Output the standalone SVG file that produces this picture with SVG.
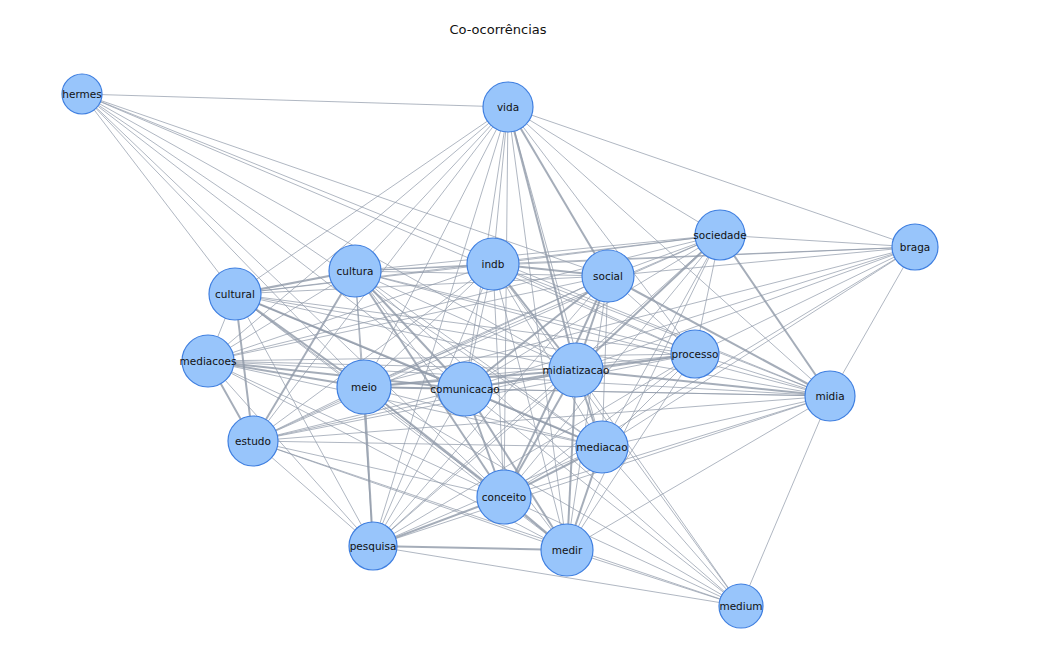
<svg xmlns="http://www.w3.org/2000/svg" width="1040" height="648" viewBox="0 0 1040 648">
<style>
line{stroke:#8e98a8;stroke-width:1;stroke-opacity:.7}
line.t{stroke-width:2;stroke-opacity:.8}
circle{fill:#98c5fb;stroke:#3f7fe0;stroke-width:1.2}
text{font-family:"DejaVu Sans",sans-serif;font-size:10.5px;fill:#111;text-anchor:middle;dominant-baseline:central}
.title{font-size:13px}
</style>
<rect width="1040" height="648" fill="#fff"/>
<text class="title" x="498" y="29">Co-ocorrências</text>
<g id="edges">
<line x1="82" y1="94" x2="508" y2="107"/><line x1="82" y1="94" x2="235" y2="294"/><line x1="82" y1="94" x2="364" y2="387"/><line x1="82" y1="94" x2="465" y2="389"/><line x1="82" y1="94" x2="504" y2="497"/><line x1="82" y1="94" x2="602" y2="447"/><line x1="82" y1="94" x2="576" y2="370"/><line x1="82" y1="94" x2="695" y2="354"/><line x1="82" y1="94" x2="830" y2="396"/><line x1="82" y1="94" x2="608" y2="276"/>
<line x1="741" y1="606" x2="830" y2="396"/><line x1="741" y1="606" x2="602" y2="447"/><line x1="741" y1="606" x2="567" y2="550"/><line x1="741" y1="606" x2="504" y2="497"/><line x1="741" y1="606" x2="373" y2="546"/><line x1="741" y1="606" x2="465" y2="389"/><line x1="741" y1="606" x2="576" y2="370"/><line x1="741" y1="606" x2="253" y2="441"/><line x1="741" y1="606" x2="364" y2="387"/><line x1="741" y1="606" x2="493" y2="264"/><line x1="741" y1="606" x2="355" y2="271"/>
<line x1="915" y1="247" x2="508" y2="107"/><line x1="915" y1="247" x2="720" y2="235"/><line x1="915" y1="247" x2="493" y2="264"/><line x1="915" y1="247" x2="355" y2="271"/><line x1="915" y1="247" x2="608" y2="276"/><line x1="915" y1="247" x2="695" y2="354"/><line x1="915" y1="247" x2="576" y2="370"/><line x1="915" y1="247" x2="364" y2="387"/><line x1="915" y1="247" x2="465" y2="389"/><line x1="915" y1="247" x2="830" y2="396"/><line x1="915" y1="247" x2="602" y2="447"/><line x1="915" y1="247" x2="504" y2="497"/>
<line x1="508" y1="107" x2="720" y2="235"/><line x1="508" y1="107" x2="493" y2="264"/><line x1="508" y1="107" x2="355" y2="271"/><line class="t" x1="508" y1="107" x2="608" y2="276"/><line x1="508" y1="107" x2="235" y2="294"/><line x1="508" y1="107" x2="695" y2="354"/><line x1="508" y1="107" x2="208" y2="361"/><line class="t" x1="508" y1="107" x2="576" y2="370"/><line x1="508" y1="107" x2="364" y2="387"/><line x1="508" y1="107" x2="465" y2="389"/><line x1="508" y1="107" x2="830" y2="396"/><line x1="508" y1="107" x2="253" y2="441"/><line x1="508" y1="107" x2="602" y2="447"/><line x1="508" y1="107" x2="504" y2="497"/><line x1="508" y1="107" x2="373" y2="546"/><line x1="508" y1="107" x2="567" y2="550"/>
<line x1="720" y1="235" x2="493" y2="264"/><line x1="720" y1="235" x2="355" y2="271"/><line x1="720" y1="235" x2="608" y2="276"/><line x1="720" y1="235" x2="235" y2="294"/><line x1="720" y1="235" x2="695" y2="354"/><line x1="720" y1="235" x2="208" y2="361"/><line class="t" x1="720" y1="235" x2="576" y2="370"/><line x1="720" y1="235" x2="364" y2="387"/><line x1="720" y1="235" x2="465" y2="389"/><line class="t" x1="720" y1="235" x2="830" y2="396"/><line x1="720" y1="235" x2="253" y2="441"/><line x1="720" y1="235" x2="602" y2="447"/><line x1="720" y1="235" x2="504" y2="497"/><line x1="720" y1="235" x2="373" y2="546"/><line x1="720" y1="235" x2="567" y2="550"/>
<line x1="493" y1="264" x2="355" y2="271"/><line class="t" x1="493" y1="264" x2="608" y2="276"/><line x1="493" y1="264" x2="235" y2="294"/><line x1="493" y1="264" x2="695" y2="354"/><line x1="493" y1="264" x2="208" y2="361"/><line class="t" x1="493" y1="264" x2="576" y2="370"/><line x1="493" y1="264" x2="364" y2="387"/><line x1="493" y1="264" x2="465" y2="389"/><line x1="493" y1="264" x2="830" y2="396"/><line x1="493" y1="264" x2="253" y2="441"/><line x1="493" y1="264" x2="602" y2="447"/><line x1="493" y1="264" x2="504" y2="497"/><line x1="493" y1="264" x2="373" y2="546"/><line x1="493" y1="264" x2="567" y2="550"/>
<line x1="355" y1="271" x2="608" y2="276"/><line class="t" x1="355" y1="271" x2="235" y2="294"/><line x1="355" y1="271" x2="695" y2="354"/><line x1="355" y1="271" x2="208" y2="361"/><line x1="355" y1="271" x2="576" y2="370"/><line x1="355" y1="271" x2="364" y2="387"/><line class="t" x1="355" y1="271" x2="465" y2="389"/><line x1="355" y1="271" x2="830" y2="396"/><line class="t" x1="355" y1="271" x2="253" y2="441"/><line x1="355" y1="271" x2="602" y2="447"/><line class="t" x1="355" y1="271" x2="504" y2="497"/><line x1="355" y1="271" x2="373" y2="546"/><line x1="355" y1="271" x2="567" y2="550"/>
<line x1="608" y1="276" x2="235" y2="294"/><line x1="608" y1="276" x2="695" y2="354"/><line x1="608" y1="276" x2="208" y2="361"/><line class="t" x1="608" y1="276" x2="576" y2="370"/><line x1="608" y1="276" x2="364" y2="387"/><line class="t" x1="608" y1="276" x2="465" y2="389"/><line class="t" x1="608" y1="276" x2="830" y2="396"/><line x1="608" y1="276" x2="253" y2="441"/><line x1="608" y1="276" x2="602" y2="447"/><line class="t" x1="608" y1="276" x2="504" y2="497"/><line x1="608" y1="276" x2="373" y2="546"/><line x1="608" y1="276" x2="567" y2="550"/>
<line x1="235" y1="294" x2="695" y2="354"/><line x1="235" y1="294" x2="208" y2="361"/><line x1="235" y1="294" x2="576" y2="370"/><line class="t" x1="235" y1="294" x2="364" y2="387"/><line class="t" x1="235" y1="294" x2="465" y2="389"/><line x1="235" y1="294" x2="830" y2="396"/><line class="t" x1="235" y1="294" x2="253" y2="441"/><line x1="235" y1="294" x2="602" y2="447"/><line x1="235" y1="294" x2="504" y2="497"/><line x1="235" y1="294" x2="373" y2="546"/><line x1="235" y1="294" x2="567" y2="550"/>
<line x1="695" y1="354" x2="208" y2="361"/><line class="t" x1="695" y1="354" x2="576" y2="370"/><line x1="695" y1="354" x2="364" y2="387"/><line x1="695" y1="354" x2="465" y2="389"/><line x1="695" y1="354" x2="830" y2="396"/><line x1="695" y1="354" x2="253" y2="441"/><line x1="695" y1="354" x2="602" y2="447"/><line x1="695" y1="354" x2="504" y2="497"/><line x1="695" y1="354" x2="373" y2="546"/><line x1="695" y1="354" x2="567" y2="550"/>
<line x1="208" y1="361" x2="576" y2="370"/><line class="t" x1="208" y1="361" x2="364" y2="387"/><line class="t" x1="208" y1="361" x2="465" y2="389"/><line x1="208" y1="361" x2="830" y2="396"/><line class="t" x1="208" y1="361" x2="253" y2="441"/><line x1="208" y1="361" x2="602" y2="447"/><line x1="208" y1="361" x2="504" y2="497"/><line x1="208" y1="361" x2="373" y2="546"/><line x1="208" y1="361" x2="567" y2="550"/>
<line class="t" x1="576" y1="370" x2="364" y2="387"/><line class="t" x1="576" y1="370" x2="465" y2="389"/><line class="t" x1="576" y1="370" x2="830" y2="396"/><line x1="576" y1="370" x2="253" y2="441"/><line class="t" x1="576" y1="370" x2="602" y2="447"/><line class="t" x1="576" y1="370" x2="504" y2="497"/><line x1="576" y1="370" x2="373" y2="546"/><line class="t" x1="576" y1="370" x2="567" y2="550"/>
<line class="t" x1="364" y1="387" x2="465" y2="389"/><line x1="364" y1="387" x2="830" y2="396"/><line x1="364" y1="387" x2="253" y2="441"/><line x1="364" y1="387" x2="602" y2="447"/><line class="t" x1="364" y1="387" x2="504" y2="497"/><line class="t" x1="364" y1="387" x2="373" y2="546"/><line x1="364" y1="387" x2="567" y2="550"/>
<line x1="465" y1="389" x2="830" y2="396"/><line x1="465" y1="389" x2="253" y2="441"/><line class="t" x1="465" y1="389" x2="602" y2="447"/><line class="t" x1="465" y1="389" x2="504" y2="497"/><line x1="465" y1="389" x2="373" y2="546"/><line class="t" x1="465" y1="389" x2="567" y2="550"/>
<line x1="830" y1="396" x2="253" y2="441"/><line x1="830" y1="396" x2="602" y2="447"/><line x1="830" y1="396" x2="504" y2="497"/><line x1="830" y1="396" x2="373" y2="546"/><line x1="830" y1="396" x2="567" y2="550"/>
<line x1="253" y1="441" x2="602" y2="447"/><line x1="253" y1="441" x2="504" y2="497"/><line x1="253" y1="441" x2="373" y2="546"/><line x1="253" y1="441" x2="567" y2="550"/>
<line class="t" x1="602" y1="447" x2="504" y2="497"/><line x1="602" y1="447" x2="373" y2="546"/><line class="t" x1="602" y1="447" x2="567" y2="550"/>
<line class="t" x1="504" y1="497" x2="373" y2="546"/><line class="t" x1="504" y1="497" x2="567" y2="550"/>
<line class="t" x1="373" y1="546" x2="567" y2="550"/>
</g>
<g id="n-hermes"><circle cx="82" cy="94" r="20"/><text x="82" y="94">hermes</text></g>
<g id="n-vida"><circle cx="508" cy="107" r="25"/><text x="508" y="107">vida</text></g>
<g id="n-sociedade"><circle cx="720" cy="235" r="25"/><text x="720" y="235">sociedade</text></g>
<g id="n-braga"><circle cx="915" cy="247" r="23"/><text x="915" y="247">braga</text></g>
<g id="n-indb"><circle cx="493" cy="264" r="26"/><text x="493" y="264">indb</text></g>
<g id="n-cultura"><circle cx="355" cy="271" r="26"/><text x="355" y="271">cultura</text></g>
<g id="n-social"><circle cx="608" cy="276" r="26"/><text x="608" y="276">social</text></g>
<g id="n-cultural"><circle cx="235" cy="294" r="26"/><text x="235" y="294">cultural</text></g>
<g id="n-processo"><circle cx="695" cy="354" r="24"/><text x="695" y="354">processo</text></g>
<g id="n-mediacoes"><circle cx="208" cy="361" r="26"/><text x="208" y="361">mediacoes</text></g>
<g id="n-midiatizacao"><circle cx="576" cy="370" r="27"/><text x="576" y="370">midiatizacao</text></g>
<g id="n-meio"><circle cx="364" cy="387" r="27"/><text x="364" y="387">meio</text></g>
<g id="n-comunicacao"><circle cx="465" cy="389" r="27"/><text x="465" y="389">comunicacao</text></g>
<g id="n-midia"><circle cx="830" cy="396" r="25"/><text x="830" y="396">midia</text></g>
<g id="n-estudo"><circle cx="253" cy="441" r="25"/><text x="253" y="441">estudo</text></g>
<g id="n-mediacao"><circle cx="602" cy="447" r="26"/><text x="602" y="447">mediacao</text></g>
<g id="n-conceito"><circle cx="504" cy="497" r="27"/><text x="504" y="497">conceito</text></g>
<g id="n-pesquisa"><circle cx="373" cy="546" r="24"/><text x="373" y="546">pesquisa</text></g>
<g id="n-medir"><circle cx="567" cy="550" r="26"/><text x="567" y="550">medir</text></g>
<g id="n-medium"><circle cx="741" cy="606" r="22"/><text x="741" y="606">medium</text></g>
</svg>
